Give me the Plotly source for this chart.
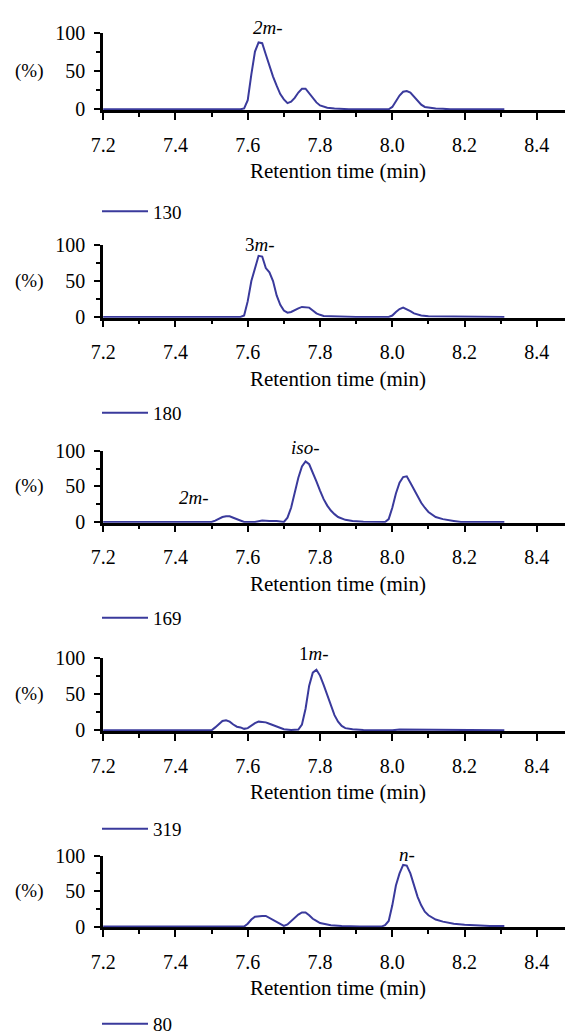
import plotly.graph_objects as go

# ---------------- data ----------------
legend_names = ["130", "180", "169", "319", "80"]

t1 = [7.20, 7.40, 7.58, 7.59, 7.60, 7.61, 7.62, 7.63, 7.64, 7.65, 7.66, 7.67, 7.68, 7.69,
      7.70, 7.71, 7.72, 7.73, 7.74, 7.75, 7.76, 7.77, 7.78, 7.79, 7.80, 7.81, 7.82, 7.84,
      7.86, 7.88, 7.95, 7.99, 8.00, 8.01, 8.02, 8.03, 8.04, 8.05, 8.06, 8.07, 8.08, 8.09,
      8.10, 8.12, 8.14, 8.16, 8.25, 8.31]
v1 = [0, 0, 0, 1, 12, 46, 76, 88, 87, 72, 57, 43, 31, 20,
      13, 8, 10, 15, 22, 27, 27, 21, 14, 9, 5, 3, 2, 1,
      0.5, 0, 0, 0, 3, 10, 18, 23, 24, 22, 17, 11, 6, 3,
      2, 1, 0.5, 0, 0, 0]

t2 = [7.20, 7.40, 7.58, 7.59, 7.60, 7.61, 7.62, 7.63, 7.64, 7.65, 7.66, 7.67, 7.68, 7.69,
      7.70, 7.71, 7.72, 7.73, 7.74, 7.75, 7.76, 7.77, 7.78, 7.79, 7.80, 7.81, 7.83, 7.85,
      7.90, 7.99, 8.00, 8.01, 8.02, 8.03, 8.04, 8.05, 8.06, 8.07, 8.08, 8.10, 8.12, 8.14,
      8.20, 8.31]
v2 = [0, 0, 0, 2, 22, 50, 68, 85, 84, 68, 62, 50, 30, 17,
      9, 6, 7, 10, 12, 14, 14, 13, 9, 5, 3, 1.5, 1, 0.5,
      0, 0, 2, 7, 11, 13, 11, 8, 5, 3, 2, 1, 1, 0,
      0, 0]

t3 = [7.20, 7.40, 7.50, 7.51, 7.52, 7.53, 7.54, 7.55, 7.56, 7.57, 7.58, 7.59, 7.62, 7.64,
      7.66, 7.68, 7.70, 7.71, 7.72, 7.73, 7.74, 7.75, 7.76, 7.77, 7.78, 7.79, 7.80, 7.81,
      7.82, 7.83, 7.84, 7.85, 7.87, 7.89, 7.92, 7.98, 7.99, 8.00, 8.01, 8.02, 8.03, 8.04,
      8.05, 8.06, 8.07, 8.08, 8.09, 8.10, 8.12, 8.14, 8.17, 8.19, 8.25, 8.31]
v3 = [0, 0, 0, 2, 5, 7, 8, 8, 6, 4, 2, 0, 0, 2,
      1.5, 1.5, 0, 6, 20, 42, 62, 78, 85, 81, 70, 57, 44, 32,
      23, 16, 11, 7, 3, 1.5, 0.5, 0, 4, 20, 40, 55, 63, 64,
      55, 45, 35, 27, 20, 14, 7, 4, 1.5, 0, 0, 0]

t4 = [7.20, 7.40, 7.50, 7.51, 7.52, 7.53, 7.54, 7.55, 7.56, 7.57, 7.58, 7.59, 7.60, 7.61,
      7.62, 7.63, 7.64, 7.65, 7.66, 7.67, 7.68, 7.69, 7.70, 7.72, 7.74, 7.75, 7.76, 7.77,
      7.78, 7.79, 7.80, 7.81, 7.82, 7.83, 7.84, 7.85, 7.86, 7.87, 7.89, 7.92, 7.95, 8.00,
      8.02, 8.05, 8.08, 8.20, 8.31]
v4 = [0, 0, 0, 4, 9, 13, 14, 12, 8, 5, 4, 2, 3, 7,
      10, 12, 12, 11, 9, 7, 5, 3, 1.5, 0.5, 1, 8, 30, 62,
      80, 84, 76, 63, 48, 33, 21, 12, 6, 3, 1.5, 0.5, 0, 0,
      1, 1, 0, 0, 0]

t5 = [7.20, 7.30, 7.31, 7.38, 7.39, 7.50, 7.59, 7.60, 7.61, 7.62, 7.63, 7.64, 7.65, 7.66,
      7.67, 7.68, 7.69, 7.70, 7.71, 7.72, 7.73, 7.74, 7.75, 7.76, 7.77, 7.78, 7.79, 7.80,
      7.81, 7.83, 7.86, 7.91, 7.97, 7.98, 7.99, 8.00, 8.01, 8.02, 8.03, 8.04, 8.05, 8.06,
      8.07, 8.08, 8.09, 8.10, 8.12, 8.14, 8.17, 8.20, 8.23, 8.27, 8.31]
v5 = [0, 0, 1, 1, 0, 0, 0, 4, 10, 14, 15, 15, 15, 12,
      10, 7, 4, 1, 3, 8, 13, 17, 20, 20, 16, 11, 8, 5,
      4, 2, 1, 0, 0, 2, 8, 30, 58, 75, 87, 86, 75, 58,
      42, 30, 21, 16, 10, 7, 4, 2.5, 1.5, 1, 1]

times = [t1, t2, t3, t4, t5]
values = [v1, v2, v3, v4, v5]

x_ticks = [7.2, 7.4, 7.6, 7.8, 8.0, 8.2, 8.4]
x_tick_labels = ["7.2", "7.4", "7.6", "7.8", "8.0", "8.2", "8.4"]
y_ticks = [0, 50, 100]
y_tick_labels = ["0", "50", "100"]

# peak labels: (panel index, time, intensity, text)
peak_panel = [0, 1, 2, 2, 3, 4]
peak_time = [7.655, 7.635, 7.76, 7.45, 7.784, 8.042]
peak_value = [108, 101, 104, 34, 107, 101]
peak_text = ["<i>2m-</i>", "3<i>m</i>-", "<i>iso-</i>", "<i>2m-</i>", "1<i>m</i>-", "<i>n-</i>"]

# ---------------- layout geometry (window pixels) ----------------
OFF = 8                       # page body margin
W, H = 573 - OFF, 1036 - OFF  # figure size so that it fills the window
panel_px = [(33.3, 110), (245, 317.7), (450.7, 522.7), (658.3, 731), (855.7, 927.3)]
legend_px = [211.5, 413, 618, 829, 1024]
x_left_px = 103
Y_MIN, Y_MAX = -1, 100

LINE_COLOR = "#3a3a9c"
FONT = "Liberation Serif"


def fx(px):
    return (px - OFF) / W


def fy(px):
    return 1 - (px - OFF) / H


fig = go.Figure()

for i in range(5):
    n = "" if i == 0 else str(i + 1)
    leg = "legend" if i == 0 else f"legend{i + 1}"
    fig.add_trace(go.Scatter(
        x=times[i], y=values[i], mode="lines", name=legend_names[i],
        line=dict(color=LINE_COLOR, width=2),
        xaxis=f"x{n}", yaxis=f"y{n}", legend=leg, showlegend=True,
    ))
    top, bot = panel_px[i]
    axis_common = dict(showline=True, linecolor="black", linewidth=2.5,
                       ticks="outside", tickcolor="black", tickwidth=2,
                       showgrid=False, zeroline=False, layer="below traces",
                       tickfont=dict(family=FONT, size=20, color="black"))
    fig.layout[f"xaxis{n}"] = dict(
        domain=[fx(x_left_px), 1], range=[7.1995, 8.5], anchor=f"y{n}",
        tickvals=x_ticks, ticktext=x_tick_labels, ticklen=7, ticklabelstandoff=8,
        minor=dict(dtick=0.1, tick0=7.2, ticklen=4, tickwidth=2, ticks="outside", tickcolor="black"),
        title=dict(text="Retention time (min)", font=dict(family=FONT, size=21, color="black"), standoff=9),
        **axis_common)
    fig.layout[f"yaxis{n}"] = dict(
        domain=[fy(bot), fy(top)], range=[Y_MIN, Y_MAX], anchor=f"x{n}",
        tickvals=y_ticks, ticktext=y_tick_labels, ticklen=6, ticklabelstandoff=5,
        minor=dict(dtick=25, tick0=0, ticklen=4, tickwidth=2, ticks="outside", tickcolor="black"),
        **axis_common)
    fig.layout[leg] = dict(
        x=fx(97), y=fy(legend_px[i]), xanchor="left", yanchor="middle",
        bgcolor="rgba(0,0,0,0)", borderwidth=0, itemwidth=46,
        font=dict(family=FONT, size=19, color="black"))
    # (%) unit label
    fig.add_annotation(text="(%)", xref="paper", yref=f"y{n}", x=fx(28.5), y=50,
                       xanchor="center", yanchor="middle", showarrow=False,
                       font=dict(family=FONT, size=19, color="black"))

for p, tx, vy, txt in zip(peak_panel, peak_time, peak_value, peak_text):
    n = "" if p == 0 else str(p + 1)
    fig.add_annotation(text=txt, xref=f"x{n}", yref=f"y{n} domain", x=tx,
                       y=(vy - Y_MIN) / (Y_MAX - Y_MIN),
                       xanchor="center", yanchor="middle", showarrow=False,
                       font=dict(family=FONT, size=19, color="black"))

fig.update_layout(
    width=W, height=H, paper_bgcolor="white", plot_bgcolor="white",
    font=dict(family=FONT, size=19, color="black"),
    margin=dict(l=0, r=0, t=0, b=0, autoexpand=False),
)

fig.write_html("out.html")
